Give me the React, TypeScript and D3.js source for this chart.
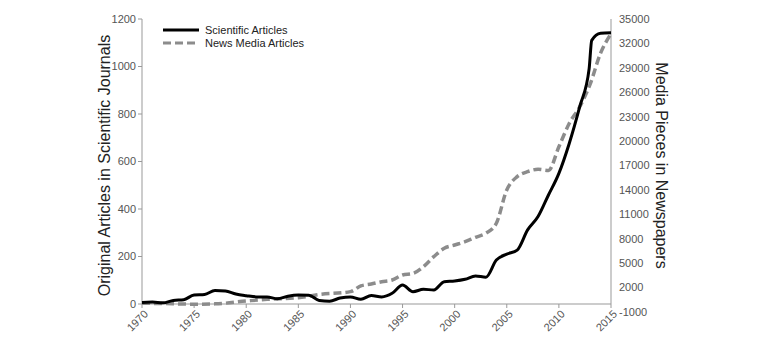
import React from "react";
import * as d3 from "d3";

const sciYears = [1970, 1971, 1972, 1973, 1974, 1975, 1976, 1977, 1978, 1979, 1980, 1981, 1982, 1983, 1984, 1985, 1986, 1987, 1988, 1989, 1990, 1991, 1992, 1993, 1994, 1995, 1996, 1997, 1998, 1999, 2000, 2001, 2002, 2003, 2004, 2005, 2006, 2007, 2008, 2009, 2010, 2011, 2012, 2012.9, 2013.15, 2014, 2015];
const sciValues = [6, 8, 5, 15, 18, 38, 40, 57, 55, 42, 35, 30, 30, 22, 33, 38, 37, 15, 12, 25, 30, 20, 36, 30, 45, 80, 52, 62, 59, 94, 97, 104, 118, 113, 185, 210, 227, 312, 368, 459, 550, 677, 831, 990, 1110, 1140, 1142];

const newsYears = [1970, 1972, 1975, 1977, 1980, 1982, 1985, 1987, 1990, 1991, 1992, 1993, 1994, 1995, 1996, 1997, 1998, 1999, 2000, 2001, 2002, 2003, 2004, 2005, 2006, 2007, 2008, 2009, 2010, 2011, 2012, 2013, 2014, 2015];
const newsValues = [80, 40, -40, 0, 350, 560, 760, 1150, 1500, 2200, 2440, 2720, 2930, 3550, 3750, 4570, 5800, 6830, 7230, 7640, 8180, 8670, 9900, 14000, 15630, 16240, 16530, 16400, 19300, 22190, 24220, 27000, 30800, 33200];

const xTicks = [1970, 1975, 1980, 1985, 1990, 1995, 2000, 2005, 2010, 2015];
const leftTicks = [0, 200, 400, 600, 800, 1000, 1200];
const rightTicks = [-1000, 2000, 5000, 8000, 11000, 14000, 17000, 20000, 23000, 26000, 29000, 32000, 35000];

const seriesNames = ["Scientific Articles", "News Media Articles"];
const leftTitle = "Original Articles in Scientific Journals";
const rightTitle = "Media Pieces in Newspapers";

export default function App() {
  const W = 770, H = 343;
  const x = d3.scaleLinear().domain([1970, 2015]).range([142, 611]);
  const yL = d3.scaleLinear().domain([0, 1200]).range([304, 19]);
  const yR = d3.scaleLinear().domain([-1000, 35000]).range([312, 19]);

  const sciLine = d3.line<number>()
    .x((_, i) => x(sciYears[i]))
    .y((d) => yL(d))
    .curve(d3.curveMonotoneX);
  const newsLine = d3.line<number>()
    .x((_, i) => x(newsYears[i]))
    .y((d) => yR(d))
    .curve(d3.curveMonotoneX);

  const font = "Arial, 'Liberation Sans', sans-serif";
  const tickColor = "#555555";

  return (
    <svg width={W} height={H} style={{ position: "absolute", left: 0, top: 0, background: "#fff" }} fontFamily={font}>
      {/* left axis */}
      <line x1={x(1970)} x2={x(1970)} y1={yL(1200)} y2={yL(0)} stroke="#999" strokeWidth={1} />
      {leftTicks.map((t) => (
        <g key={"l" + t}>
          <line x1={x(1970) - 4} x2={x(1970)} y1={yL(t)} y2={yL(t)} stroke="#999" />
          <text x={x(1970) - 6} y={yL(t)} dy="0.35em" textAnchor="end" fontSize={11} fill={tickColor}>{t}</text>
        </g>
      ))}
      {/* right axis */}
      <line x1={x(2015)} x2={x(2015)} y1={yR(35000)} y2={yL(0)} stroke="#999" strokeWidth={1} />
      {rightTicks.map((t) => (
        <text key={"r" + t} x={x(2015) + 8} y={yR(t)} dy="0.35em" textAnchor="start" fontSize={11} fill={tickColor}>{t}</text>
      ))}
      {/* x axis */}
      <line x1={x(1970)} x2={x(2015)} y1={yL(0)} y2={yL(0)} stroke="#999" />
      {xTicks.map((t) => (
        <g key={"x" + t}>
          <line x1={x(t)} x2={x(t)} y1={yL(0)} y2={yL(0) + 4} stroke="#999" />
          <text transform={`translate(${x(t) + 4},${yL(0) + 8}) rotate(-45)`} textAnchor="end" dy="0.35em" fontSize={11} fill={tickColor}>{t}</text>
        </g>
      ))}
      {/* titles */}
      <text transform={`translate(110,${(yL(0) + yL(1200)) / 2 + 4}) rotate(-90)`} textAnchor="middle" fontSize={16} fill="#222">{leftTitle}</text>
      <text transform={`translate(656,${(yL(0) + yL(1200)) / 2 + 4}) rotate(90)`} textAnchor="middle" fontSize={16} fill="#222">{rightTitle}</text>
      {/* lines */}
      <path d={newsLine(newsValues) || ""} fill="none" stroke="#8c8c8c" strokeWidth={3.5} strokeDasharray="8,4" />
      <path d={sciLine(sciValues) || ""} fill="none" stroke="#000" strokeWidth={3} />
      {/* legend */}
      <line x1={163} x2={199} y1={30} y2={30} stroke="#000" strokeWidth={3} />
      <text x={205} y={30} dy="0.35em" fontSize={11} fill="#222">{seriesNames[0]}</text>
      <line x1={163} x2={199} y1={43} y2={43} stroke="#8c8c8c" strokeWidth={3} strokeDasharray="8,4" />
      <text x={205} y={43} dy="0.35em" fontSize={11} fill="#222">{seriesNames[1]}</text>
    </svg>
  );
}
